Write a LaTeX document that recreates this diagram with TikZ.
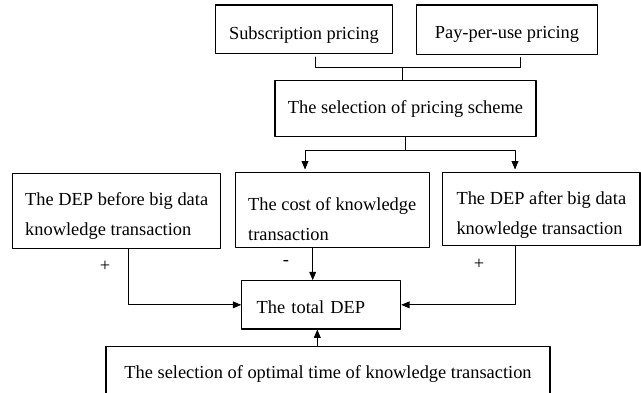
\documentclass[tikz,border=0pt]{standalone}
\usepackage{fontspec}
\setmainfont{Liberation Serif}
\usetikzlibrary{arrows}

\begin{document}
\begin{tikzpicture}[line cap=round,line join=round,>=triangle 45,x=1pt,y=-1pt,
  box/.style={draw,line width=1.1pt,font=\fontsize{18.4}{30}\selectfont,inner sep=0pt,text depth=4pt},
  twoline/.style={box,align=left},
  sign/.style={font=\fontsize{18.4}{30}\selectfont,inner sep=0pt},
  link/.style={line width=0.9pt}]
\useasboundingbox (0,0) rectangle (641,393);
\clip (0,0) rectangle (641,393);

%hinnoittelu
\node[box,minimum width=177.7pt,minimum height=48.3pt,text height=25pt] (sub) at (303.9,29.2) {Subscription pricing};
\node[box,minimum width=180.6pt,minimum height=49.3pt,text height=22pt] (ppu) at (507,29.7) {Pay-per-use pricing};
\node[box,minimum width=261pt,minimum height=56pt,text height=13.2pt] (sel) at (405.5,108.7) {The selection of pricing scheme};

%keskirivi
\node[twoline,minimum width=208pt,minimum height=75pt,text height=53.8pt] (before) at (116.7,210.8) {The DEP before big data\\knowledge transaction};
\node[twoline,minimum width=194.3pt,minimum height=74.6pt,text height=65pt] (cost) at (332.2,210) {The cost of knowledge\\transaction};
\node[twoline,minimum width=197.3pt,minimum height=73pt,text height=55.6pt] (after) at (541.35,209.2) {The DEP after big data\\knowledge transaction};

%alarivi
\node[box,minimum width=159pt,minimum height=48.3pt,text width=129pt,align=left,inner xsep=15pt,text height=22.3pt] (total) at (321.2,304.85) {The total DEP};
\node[box,minimum width=444pt,minimum height=52pt,text height=15.2pt] (optimal) at (328,372.7) {The selection of optimal time of knowledge transaction};

\node[sign] (plusbefore) at (105,266) {+};
\node[sign] (minuscost) at (286,263) {-};
\node[sign] (plusafter) at (479,264) {+};

%sulku ylhaalla
\coordinate (subfoot) at (315.7,57);
\coordinate (ppufoot) at (520,57.5);
\coordinate (join) at (402,67.7);
\draw[link] (subfoot) |- (join) -| (ppufoot);
\draw[link] (join) -- (join |- sel.north);

%haarautuminen
\draw[link] (sel.south) -- ++(0,13.3) coordinate (fork);
\draw[link,->] (fork) -| ([xshift=-27.2pt,yshift=2.7pt]cost.north);
\draw[link,->] (fork) -| ([xshift=-26.35pt,yshift=2.7pt]after.north);

%nuolet kokonaisuuteen
\draw[link,->] ([xshift=11.6pt]before.south) |- (total.west);
\draw[link,->] ([xshift=-19.5pt]cost.south) -- ([xshift=-19.5pt]cost.south |- total.north);
\draw[link,->] ([xshift=-26.35pt]after.south) |- (total.east);
\draw[link,->] ([xshift=-3.9pt]total.south |- optimal.north) -- ([xshift=-3.9pt]total.south);
\end{tikzpicture}
\end{document}
